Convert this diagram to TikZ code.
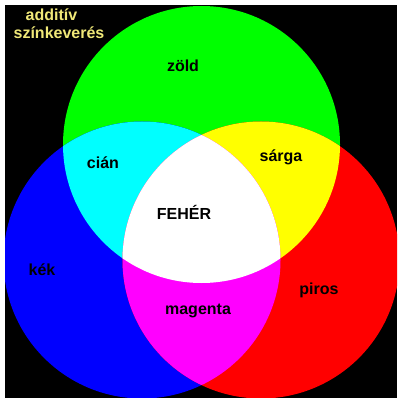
\documentclass[tikz,border=0pt]{standalone}
\usepackage{fontspec}
\setmainfont{Liberation Sans}
\definecolor{txtyellow}{RGB}{240,232,120}
\definecolor{pgreen}{RGB}{0,255,0}
\definecolor{pblue}{RGB}{0,0,255}
\definecolor{pred}{RGB}{255,0,0}
\definecolor{pcyan}{RGB}{0,255,255}
\definecolor{pyellow}{RGB}{255,255,0}
\definecolor{pmagenta}{RGB}{255,0,255}
\begin{document}
\begin{tikzpicture}[x=1pt,y=-1pt,
  lbl/.style={font=\fontsize{16}{18}\selectfont\bfseries, text=black, inner sep=0pt},
  ttl/.style={font=\fontsize{16}{18}\selectfont\bfseries, text=txtyellow, inner sep=0pt}]
\def\R{138.5}
\useasboundingbox (0,0) rectangle (397,398);
\fill[white] (0,0) rectangle (397,398);
\fill[black] (5,5) rectangle (397,398);
\begin{scope}
\clip (5,5) rectangle (397,398);
\fill[pgreen] (201.5,144.5) circle (\R);
\fill[pblue] (142,260) circle (\R);
\fill[pred] (261,260) circle (\R);
\begin{scope}
  \clip (201.5,144.5) circle (\R);
  \fill[pcyan] (142,260) circle (\R);
  \fill[pyellow] (261,260) circle (\R);
\end{scope}
\begin{scope}
  \clip (261,260) circle (\R);
  \fill[pmagenta] (142,260) circle (\R);
  \clip (201.5,144.5) circle (\R);
  \fill[white] (142,260) circle (\R);
\end{scope}
\end{scope}
\node[ttl, anchor=base] (t1) at (51.5,20.5) {additív};
\node[ttl, anchor=base] (t2) at (59,38.5) {színkeverés};
\node[lbl] (zold) at (183,66) {zöld};
\node[lbl] (cian) at (103,163) {cián};
\node[lbl] (sarga) at (281,157) {sárga};
\node[lbl] (feher) at (184,212) {FEHÉR};
\node[lbl] (kek) at (42,270) {kék};
\node[lbl] (magenta) at (198,311) {magenta};
\node[lbl] (piros) at (319,290) {piros};
\end{tikzpicture}
\end{document}
